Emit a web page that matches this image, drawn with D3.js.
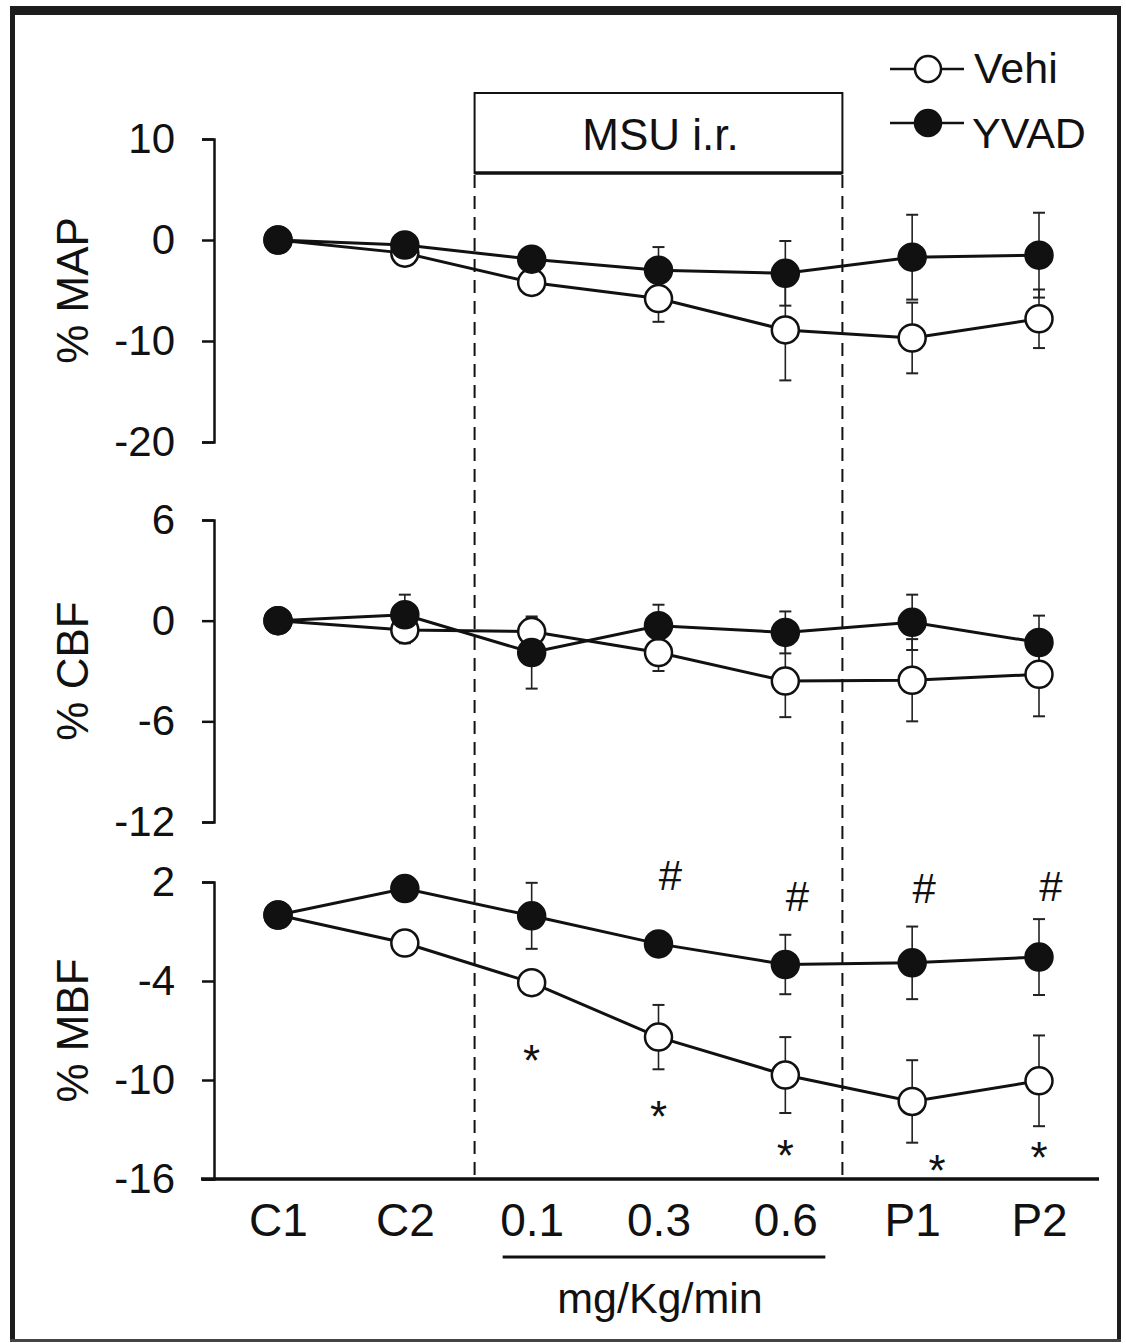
<!DOCTYPE html>
<html>
<head>
<meta charset="utf-8">
<script src="https://cdn.jsdelivr.net/npm/d3@7"></script>
<style>
  body { margin: 0; background: #fff; }
  svg { display: block; }
  text { font-family: "Liberation Sans", Arial, Helvetica, sans-serif; fill: #111; }
</style>
</head>
<body>
<svg id="chart"></svg>
<script>
// x categories (time points / doses)
var categories = ['C1', 'C2', '0.1', '0.3', '0.6', 'P1', 'P2'];

// % MAP
var mapVehi   = [0, -1.3, -4.2, -5.8, -8.9, -9.7, -7.8];
var mapVehiSE = [0, 0.6, 1.0, 2.3, 5.0, 3.5, 2.9];
var mapYvad   = [0, -0.5, -1.9, -3.0, -3.3, -1.7, -1.5];
var mapYvadSE = [0, 0.6, 0.9, 2.3, 3.2, 4.2, 4.2];
var mapTicks  = [10, 0, -10, -20];

// % CBF
var cbfVehi   = [0, -0.55, -0.65, -1.9, -3.6, -3.55, -3.2];
var cbfVehiSE = [0, 0.8, 0.8, 1.1, 2.15, 2.45, 2.5];
var cbfYvad   = [0, 0.35, -1.9, -0.3, -0.7, -0.1, -1.3];
var cbfYvadSE = [0, 1.2, 2.15, 1.25, 1.25, 1.65, 1.6];
var cbfTicks  = [6, 0, -6, -12];

// % MBF
var mbfVehi   = [0, -1.7, -4.1, -7.4, -9.7, -11.3, -10.05];
var mbfVehiSE = [0, 0.5, 0.7, 1.95, 2.3, 2.5, 2.75];
var mbfYvad   = [0, 1.6, -0.05, -1.75, -3.0, -2.9, -2.55];
var mbfYvadSE = [0, 0.4, 2.0, 0.6, 1.8, 2.2, 2.3];
var mbfTicks  = [2, -4, -10, -16];

// significance marks on the MBF panel (value = where the mark sits)
var hashCats  = ['0.3', '0.6', 'P1', 'P2'];
var hashVals  = [2.4, 1.15, 1.6, 1.75];
var starCats  = ['0.1', '0.3', '0.6', 'P1', 'P2'];
var starVals  = [-8.2, -11.6, -13.95, -14.85, -14.1];

var seriesNames = ['Vehi', 'YVAD'];

var svgWidth = 1126;
var svgHeight = 1343;
var axisX = 214;

var svg = d3.select('#chart')
    .attr('width', svgWidth)
    .attr('height', svgHeight);

// outer frame
svg.append('rect').attr('x', 10).attr('y', 6).attr('width', 1111).attr('height', 9).attr('fill', '#1c1c1c');
svg.append('rect').attr('x', 10).attr('y', 6).attr('width', 5).attr('height', 1336).attr('fill', '#1c1c1c');
svg.append('rect').attr('x', 1117).attr('y', 6).attr('width', 4).attr('height', 1336).attr('fill', '#1c1c1c');
svg.append('rect').attr('x', 10).attr('y', 1339).attr('width', 1111).attr('height', 3).attr('fill', '#444');

var xScale = d3.scalePoint()
    .domain(categories)
    .range([278, 1039]);
var step = xScale.step();

var panels = [
    {label: '% MAP', ticks: mapTicks, range: [442, 139],
     vehi: mapVehi, vehiSE: mapVehiSE, yvad: mapYvad, yvadSE: mapYvadSE},
    {label: '% CBF', ticks: cbfTicks, range: [822, 520],
     vehi: cbfVehi, vehiSE: cbfVehiSE, yvad: cbfYvad, yvadSE: cbfYvadSE},
    {label: '% MBF', ticks: mbfTicks, range: [1179, 882],
     vehi: mbfVehi, vehiSE: mbfVehiSE, yvad: mbfYvad, yvadSE: mbfYvadSE}
];

var boxLeft = xScale('0.1') - 0.45 * step;
var boxRight = xScale('0.6') + 0.45 * step;

// MSU infusion box and dashed guides
svg.append('rect')
    .attr('x', boxLeft).attr('y', 93)
    .attr('width', boxRight - boxLeft).attr('height', 80)
    .attr('fill', 'none').attr('stroke', '#111').attr('stroke-width', 2);
svg.append('line')
    .attr('x1', boxLeft).attr('x2', boxRight)
    .attr('y1', 173).attr('y2', 173)
    .attr('stroke', '#111').attr('stroke-width', 3.5);
svg.append('text')
    .attr('x', (boxLeft + boxRight) / 2 + 2).attr('y', 150)
    .attr('text-anchor', 'middle')
    .style('font-size', '44px')
    .text('MSU i.r.');

[boxLeft, boxRight].forEach(function(xPos) {
    svg.append('line')
        .attr('x1', xPos).attr('x2', xPos)
        .attr('y1', 175).attr('y2', 1178)
        .attr('stroke', '#111').attr('stroke-width', 2)
        .attr('stroke-dasharray', '13,8');
});

var valueline;

panels.forEach(function(panel, panelIndex) {
    var yScale = d3.scaleLinear()
        .domain([panel.ticks[panel.ticks.length - 1], panel.ticks[0]])
        .range(panel.range);
    panel.yScale = yScale;

    var g = svg.append('g');

    // y axis (plain hyphen for negatives, like the original)
    var yAxis = g.append('g')
        .attr('transform', 'translate(' + axisX + ',0)')
        .call(d3.axisLeft(yScale)
            .tickValues(panel.ticks)
            .tickFormat(function(d) { return String(d); })
            .tickSize(12).tickSizeOuter(12).tickPadding(27));
    yAxis.select('.domain').attr('stroke', '#111').attr('stroke-width', 2.5);
    yAxis.selectAll('.tick line').attr('stroke', '#111').attr('stroke-width', 2.5);
    yAxis.selectAll('.tick text')
        .style('font-size', '42px')
        .style('font-family', '"Liberation Sans", Arial, sans-serif')
        .attr('fill', '#111');

    // y label
    var midY = (panel.range[0] + panel.range[1]) / 2;
    g.append('text')
        .attr('transform', 'translate(88,' + midY + ') rotate(-90)')
        .attr('text-anchor', 'middle')
        .style('font-size', '44px')
        .text(panel.label);

    var series = [
        {name: 'Vehi', values: panel.vehi, se: panel.vehiSE, fill: '#fff'},
        {name: 'YVAD', values: panel.yvad, se: panel.yvadSE, fill: '#111'}
    ];

    valueline = d3.line()
        .x(function(d) { return xScale(d.cat); })
        .y(function(d) { return yScale(d.value); });

    series.forEach(function(s) {
        s.data = categories.map(function(cat, i) {
            return {cat: cat, value: s.values[i], se: s.se[i]};
        });
    });

    // connecting lines
    series.forEach(function(s) {
        g.append('path')
            .datum(s.data)
            .attr('d', valueline)
            .attr('fill', 'none')
            .attr('stroke', '#111')
            .attr('stroke-width', 3);
    });

    // error bars
    series.forEach(function(s) {
        var bars = g.append('g').selectAll('g')
            .data(s.data.filter(function(d) { return d.se > 0; }))
            .join('g');
        bars.append('line')
            .attr('x1', function(d) { return xScale(d.cat); })
            .attr('x2', function(d) { return xScale(d.cat); })
            .attr('y1', function(d) { return yScale(d.value + d.se); })
            .attr('y2', function(d) { return yScale(d.value - d.se); })
            .attr('stroke', '#222').attr('stroke-width', 1.6);
        [1, -1].forEach(function(sign) {
            bars.append('line')
                .attr('x1', function(d) { return xScale(d.cat) - 6; })
                .attr('x2', function(d) { return xScale(d.cat) + 6; })
                .attr('y1', function(d) { return yScale(d.value + sign * d.se); })
                .attr('y2', function(d) { return yScale(d.value + sign * d.se); })
                .attr('stroke', '#222').attr('stroke-width', 2);
        });
    });

    // markers (YVAD drawn on top)
    series.forEach(function(s) {
        g.append('g').selectAll('circle')
            .data(s.data)
            .join('circle')
            .attr('cx', function(d) { return xScale(d.cat); })
            .attr('cy', function(d) { return yScale(d.value); })
            .attr('r', 13.5)
            .attr('fill', s.fill)
            .attr('stroke', '#111')
            .attr('stroke-width', 2.5);
    });
});

// x axis (bottom panel only)
var mbfScale = panels[2].yScale;
svg.append('line')
    .attr('x1', axisX - 13).attr('x2', xScale('P2') + 60)
    .attr('y1', 1179).attr('y2', 1179)
    .attr('stroke', '#111').attr('stroke-width', 3.5);

var xAxis = svg.append('g')
    .attr('transform', 'translate(0,1179)')
    .call(d3.axisBottom(xScale).tickSize(0).tickPadding(24));
xAxis.select('.domain').remove();
xAxis.selectAll('.tick text')
    .style('font-size', '46px')
    .style('font-family', '"Liberation Sans", Arial, sans-serif')
    .attr('fill', '#111');

// dose underline and unit
svg.append('line')
    .attr('x1', xScale('0.1') - 29).attr('x2', xScale('0.6') + 40)
    .attr('y1', 1257).attr('y2', 1257)
    .attr('stroke', '#111').attr('stroke-width', 3);
svg.append('text')
    .attr('x', 660).attr('y', 1313)
    .attr('text-anchor', 'middle')
    .style('font-size', '43px')
    .text('mg/Kg/min');

// significance marks
svg.append('g').selectAll('text')
    .data(hashCats.map(function(c, i) { return {cat: c, value: hashVals[i]}; }))
    .join('text')
    .attr('x', function(d) { return xScale(d.cat) + 12; })
    .attr('y', function(d) { return mbfScale(d.value); })
    .attr('dy', '0.35em')
    .attr('text-anchor', 'middle')
    .style('font-size', '42px')
    .text('#');

svg.append('g').selectAll('text')
    .data(starCats.map(function(c, i) { return {cat: c, value: starVals[i]}; }))
    .join('text')
    .attr('x', function(d) { return xScale(d.cat) + (d.cat === 'P1' ? 25 : 0); })
    .attr('y', function(d) { return mbfScale(d.value); })
    .attr('dy', '0.58em')
    .attr('text-anchor', 'middle')
    .style('font-size', '44px')
    .text('*');

// legend
var legend = svg.append('g');
seriesNames.forEach(function(name, i) {
    var ly = i === 0 ? 69 : 123;
    legend.append('line')
        .attr('x1', 890).attr('x2', 964)
        .attr('y1', ly).attr('y2', ly)
        .attr('stroke', '#111').attr('stroke-width', 2.5);
    legend.append('circle')
        .attr('cx', 928).attr('cy', ly)
        .attr('r', 13)
        .attr('fill', i === 0 ? '#fff' : '#111')
        .attr('stroke', '#111').attr('stroke-width', 2.5);
    legend.append('text')
        .attr('x', i === 0 ? 974 : 972)
        .attr('y', i === 0 ? 83 : 148)
        .style('font-size', '43px')
        .text(name);
});
</script>
</body>
</html>
